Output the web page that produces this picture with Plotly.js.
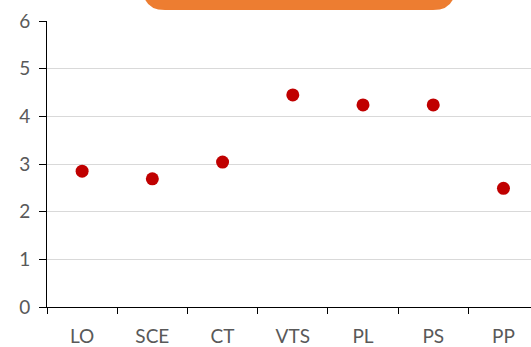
<!DOCTYPE html>
<html>
<head>
<meta charset="utf-8">
<script src="https://cdn.plot.ly/plotly-3.0.1.min.js"></script>
<style>html,body{margin:0;padding:0;background:#fff;}#chart{width:531px;height:347px;}</style>
</head>
<body>
<div id="chart"></div>
<script>
var categories = ["LO", "SCE", "CT", "VTS", "PL", "PS", "PP"];
var values = [2.85, 2.69, 3.04, 4.45, 4.24, 4.24, 2.49];
var yTicks = [0, 1, 2, 3, 4, 5, 6];

var W = 531, H = 347;
var m = {l: 47, r: 0, t: 21, b: 40};
var pw = W - m.l - m.r, ph = H - m.t - m.b;
function px(x) { return (x - m.l) / pw; }
function py(y) { return (H - m.b - y) / ph; }
var bx0 = px(143), bx1 = px(455), by0 = py(10), by1 = py(-40);
var rx = 22 / pw, ry = 22 / ph;
var boxPath = 'M ' + (bx0 + rx) + ',' + by0 +
  ' L ' + (bx1 - rx) + ',' + by0 +
  ' Q ' + bx1 + ',' + by0 + ' ' + bx1 + ',' + (by0 + ry) +
  ' L ' + bx1 + ',' + by1 +
  ' L ' + bx0 + ',' + by1 +
  ' L ' + bx0 + ',' + (by0 + ry) +
  ' Q ' + bx0 + ',' + by0 + ' ' + (bx0 + rx) + ',' + by0 + ' Z';

var trace = {
  x: categories,
  y: values,
  type: 'scatter',
  mode: 'markers',
  marker: {color: '#C00000', size: 13},
  hoverinfo: 'skip'
};

var layout = {
  width: W, height: H,
  margin: m,
  paper_bgcolor: '#fff',
  plot_bgcolor: '#fff',
  showlegend: false,
  font: {family: 'Lato, "Open Sans", sans-serif', color: '#595959', size: 19},
  xaxis: {
    type: 'category',
    range: [-0.5, 6.392],
    tickson: 'boundaries',
    ticks: 'outside', ticklen: 6, tickcolor: '#000', tickwidth: 1,
    showline: true, linecolor: '#000', linewidth: 1,
    showgrid: false, zeroline: false,
    ticklabelstandoff: 12,
    fixedrange: true
  },
  yaxis: {
    range: [0, 6],
    tickvals: yTicks,
    ticks: 'outside', ticklen: 7, tickcolor: '#000', tickwidth: 1,
    showline: true, linecolor: '#000', linewidth: 1,
    showgrid: true, gridcolor: '#D9D9D9', gridwidth: 1,
    zeroline: false,
    ticklabelstandoff: 5,
    fixedrange: true
  },
  shapes: [{
    type: 'path', xref: 'paper', yref: 'paper',
    path: boxPath,
    fillcolor: '#ED7D31', line: {width: 0}
  }]
};

Plotly.newPlot('chart', [trace], layout, {displayModeBar: false, staticPlot: true});
</script>
</body>
</html>
